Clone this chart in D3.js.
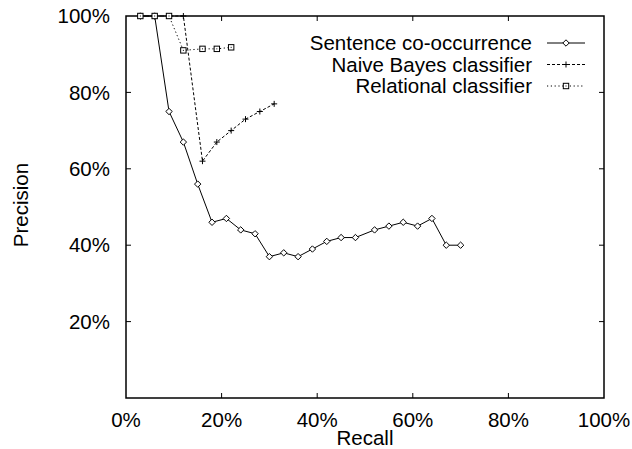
<!DOCTYPE html>
<html>
<head>
<meta charset="utf-8">
<script src="https://cdn.jsdelivr.net/npm/d3@7"></script>
<style>
  html, body { margin: 0; padding: 0; background: #fff; }
  svg text { font-family: "Liberation Sans", Arial, Helvetica, sans-serif; fill: #000; }
</style>
</head>
<body>
<div id="chart"></div>
<script>
// recall / precision pairs
const sentenceRecall = [3, 6, 9, 12, 15, 18, 21, 24, 27, 30, 33, 36, 39, 42, 45, 48, 52, 55, 58, 61, 64, 67, 70];
const sentencePrecision = [100, 100, 75, 67, 56, 46, 47, 44, 43, 37, 38, 37, 39, 41, 42, 42, 44, 45, 46, 45, 47, 40, 40];

const bayesRecall = [3, 6, 9, 12, 16, 19, 22, 25, 28, 31];
const bayesPrecision = [100, 100, 100, 100, 62, 67, 70, 73, 75, 77];

const relationalRecall = [3, 6, 9, 12, 16, 19, 22];
const relationalPrecision = [100, 100, 100, 91, 91.4, 91.4, 91.8];

const xTicks = [0, 20, 40, 60, 80, 100];
const yTicks = [20, 40, 60, 80, 100];

const seriesNames = ['Sentence co-occurrence', 'Naive Bayes classifier', 'Relational classifier'];

const W = 632, H = 449;
const margin = { top: 16, right: 28, bottom: 51, left: 126 };
const w = W - margin.left - margin.right;
const h = H - margin.top - margin.bottom;

const x = d3.scaleLinear().domain([0, 100]).range([0, w]);
const y = d3.scaleLinear().domain([0, 100]).range([h, 0]);

const svg = d3.select('#chart').append('svg')
  .attr('width', W)
  .attr('height', H);

const g = svg.append('g').attr('transform', `translate(${margin.left},${margin.top})`);

const fontSize = '20.5px';
const tickLen = 5;

// ticks on all four sides, pointing inward
const axes = g.append('g').attr('stroke', '#000').attr('stroke-width', 1);
xTicks.forEach((t) => {
  if (t === 0 || t === 100) return;
  axes.append('line').attr('x1', x(t)).attr('x2', x(t)).attr('y1', h).attr('y2', h - tickLen);
  axes.append('line').attr('x1', x(t)).attr('x2', x(t)).attr('y1', 0).attr('y2', tickLen);
});
yTicks.forEach((t) => {
  if (t === 100) return;
  axes.append('line').attr('x1', 0).attr('x2', tickLen).attr('y1', y(t)).attr('y2', y(t));
  axes.append('line').attr('x1', w).attr('x2', w - tickLen).attr('y1', y(t)).attr('y2', y(t));
});

g.append('rect')
  .attr('x', 0).attr('y', 0)
  .attr('width', w).attr('height', h)
  .attr('fill', 'none')
  .attr('stroke', '#000')
  .attr('stroke-width', 1.5);

// tick labels
g.selectAll('.xlab').data(xTicks).join('text')
  .attr('class', 'xlab')
  .attr('x', (d) => x(d))
  .attr('y', h + 29)
  .attr('text-anchor', 'middle')
  .attr('font-size', fontSize)
  .text((d) => d + '%');

g.selectAll('.ylab').data(yTicks).join('text')
  .attr('class', 'ylab')
  .attr('x', -16)
  .attr('y', (d) => y(d))
  .attr('dy', '0.35em')
  .attr('text-anchor', 'end')
  .attr('font-size', fontSize)
  .text((d) => d + '%');

// axis titles
svg.append('text')
  .attr('x', margin.left + w / 2)
  .attr('y', H - 4)
  .attr('text-anchor', 'middle')
  .attr('font-size', fontSize)
  .text('Recall');

svg.append('text')
  .attr('transform', `translate(28,${margin.top + h / 2 - 2}) rotate(-90)`)
  .attr('text-anchor', 'middle')
  .attr('font-size', fontSize)
  .text('Precision');

// series
const series = [
  { name: seriesNames[0], xs: sentenceRecall, ys: sentencePrecision, dash: null, marker: 'diamond' },
  { name: seriesNames[1], xs: bayesRecall, ys: bayesPrecision, dash: '3,2', marker: 'plus' },
  { name: seriesNames[2], xs: relationalRecall, ys: relationalPrecision, dash: '1.2,2.6', marker: 'square' }
];

const line = d3.line().x((d) => x(d[0])).y((d) => y(d[1]));

function drawMarker(sel, type, cx, cy) {
  if (type === 'diamond') {
    const r = 3.2;
    sel.append('path')
      .attr('d', `M${cx},${cy - r}L${cx + r},${cy}L${cx},${cy + r}L${cx - r},${cy}Z`)
      .attr('fill', '#fff').attr('stroke', '#000').attr('stroke-width', 1);
  } else if (type === 'plus') {
    const r = 3;
    sel.append('path')
      .attr('d', `M${cx - r},${cy}H${cx + r}M${cx},${cy - r}V${cy + r}`)
      .attr('fill', 'none').attr('stroke', '#000').attr('stroke-width', 1);
  } else {
    const r = 2.7;
    sel.append('rect')
      .attr('x', cx - r).attr('y', cy - r)
      .attr('width', 2 * r).attr('height', 2 * r)
      .attr('fill', '#fff').attr('stroke', '#000').attr('stroke-width', 1);
    sel.append('rect')
      .attr('x', cx - 0.5).attr('y', cy - 0.5)
      .attr('width', 1).attr('height', 1)
      .attr('fill', '#000');
  }
}

series.forEach((s) => {
  const pts = s.xs.map((v, i) => [v, s.ys[i]]);
  const sg = g.append('g');
  sg.append('path')
    .attr('d', line(pts))
    .attr('fill', 'none')
    .attr('stroke', '#000')
    .attr('stroke-width', 1)
    .attr('stroke-dasharray', s.dash);
  pts.forEach((p) => drawMarker(sg, s.marker, x(p[0]), y(p[1])));
});

// legend
const legend = svg.append('g');
series.forEach((s, i) => {
  const ly = 43 + i * 21.5;
  legend.append('text')
    .attr('x', 532)
    .attr('y', ly)
    .attr('dy', '0.35em')
    .attr('text-anchor', 'end')
    .attr('font-size', fontSize)
    .text(s.name);
  legend.append('line')
    .attr('x1', 547).attr('x2', 585)
    .attr('y1', ly).attr('y2', ly)
    .attr('stroke', '#000')
    .attr('stroke-width', 1)
    .attr('stroke-dasharray', s.dash);
  drawMarker(legend, s.marker, 566, ly);
});
</script>
</body>
</html>
